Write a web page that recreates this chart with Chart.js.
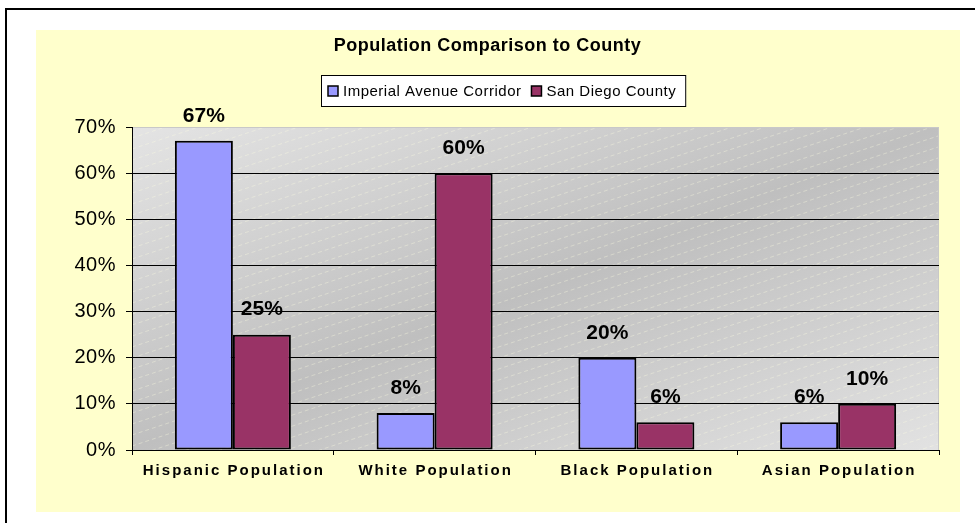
<!DOCTYPE html>
<html>
<head>
<meta charset="utf-8">
<script src="https://cdn.jsdelivr.net/npm/chart.js"></script>
<style>
  html, body { margin: 0; padding: 0; background: #fff; overflow: hidden; }
  body { width: 975px; height: 523px; position: relative; }
  .frame { position: absolute; left: 5px; top: 8px; width: 1000px; height: 1000px; border: 2px solid #000; box-sizing: border-box; }
  .panel { position: absolute; left: 36px; top: 30px; width: 924px; height: 482px; background: #ffffcc; }
  #chart { position: absolute; left: 0; top: 0; }
</style>
</head>
<body>
<div class="frame"></div>
<div class="panel"></div>
<canvas id="chart" width="975" height="523"></canvas>
<script>
const chartTitle = "Population Comparison to County";
const categories = ["Hispanic Population", "White Population", "Black Population", "Asian Population"];
const seriesNames = ["Imperial Avenue Corridor", "San Diego County"];
const corridorPct = [67, 8, 20, 6];
const countyPct = [25, 60, 6, 10];
const yMin = 0, yMax = 70, yStep = 10;

const FONT = '"Liberation Sans", Arial, sans-serif';

// gray diagonal fill behind the bars, gridlines sit on top of it
const plotBackground = {
  id: "plotBackground",
  beforeUpdate(chart) { chart.ctx.letterSpacing = "0.5px"; },
  beforeDraw(chart) {
    const { ctx, chartArea: a } = chart;
    ctx.letterSpacing = "0.5px";

    ctx.save();
    ctx.translate(a.left, a.top);
    ctx.scale(a.width, a.height);
    const g = ctx.createLinearGradient(0, 0, 1, 1);
    g.addColorStop(0, "#e4e4e4");
    g.addColorStop(0.5, "#bfbfbf");
    g.addColorStop(1, "#e2e2e2");
    ctx.fillStyle = g;
    ctx.fillRect(0, 0, 1, 1);
    ctx.restore();

    // faint dashed hatch
    ctx.save();
    ctx.beginPath();
    ctx.rect(a.left, a.top, a.width, a.height);
    ctx.clip();
    ctx.strokeStyle = "rgba(255,255,225,0.35)";
    ctx.lineWidth = 1;
    ctx.setLineDash([4, 3]);
    const rise = a.width * 0.33;
    for (let y = a.top; y < a.bottom + rise; y += 11) {
      ctx.beginPath();
      ctx.moveTo(a.left, y);
      ctx.lineTo(a.right, y - rise);
      ctx.stroke();
    }
    ctx.restore();

    ctx.save();
    ctx.strokeStyle = "#c8c8c8";
    ctx.lineWidth = 1;
    ctx.beginPath();
    ctx.moveTo(a.left, a.top + 0.5);
    ctx.lineTo(a.right - 0.5, a.top + 0.5);
    ctx.lineTo(a.right - 0.5, a.bottom);
    ctx.stroke();
    ctx.restore();
  }
};

// value labels above bars
const barLabels = {
  id: "barLabels",
  afterDatasetsDraw(chart) {
    const ctx = chart.ctx;
    ctx.save();
    ctx.font = `bold 21px ${FONT}`;
    ctx.letterSpacing = "0px";
    ctx.fillStyle = "#000";
    ctx.textAlign = "center";
    ctx.textBaseline = "middle";
    chart.data.datasets.forEach((ds, i) => {
      chart.getDatasetMeta(i).data.forEach((bar, j) => {
        ctx.fillText(Math.round(ds.data[j]) + "%", bar.x, bar.y - 25);
      });
    });
    ctx.restore();
  }
};

// title, legend box and spaced-out category names
const chartText = {
  id: "chartText",
  afterDraw(chart) {
    const ctx = chart.ctx;
    const xs = chart.scales.x;

    ctx.save();
    ctx.fillStyle = "#000";
    ctx.textBaseline = "middle";

    ctx.font = `bold 18px ${FONT}`;
    ctx.letterSpacing = "0.5px";
    ctx.textAlign = "center";
    ctx.fillText(chartTitle, chart.width / 2, 46);

    ctx.font = `bold 15px ${FONT}`;
    ctx.letterSpacing = "2px";
    categories.forEach((c, i) => {
      ctx.fillText(c, xs.getPixelForValue(i) + 1, 471);
    });

    // legend
    ctx.font = `15px ${FONT}`;
    ctx.letterSpacing = "0.5px";
    ctx.textAlign = "left";
    const sw = 10, gapText = 5, gapItem = 10, padL = 7, padR = 10, h = 32;
    const items = chart.data.datasets.map(ds => ({ ds, w: ctx.measureText(ds.label).width }));
    let total = padL + padR;
    items.forEach((it, i) => { total += sw + gapText + it.w + (i ? gapItem : 0); });
    const cy = 91;
    let x = Math.round(504 - total / 2);
    ctx.fillStyle = "#fff";
    ctx.fillRect(x, cy - h / 2, total, h);
    ctx.strokeStyle = "#000";
    ctx.lineWidth = 1;
    ctx.strokeRect(x + 0.5, cy - h / 2 + 0.5, total - 1, h - 1);
    x += padL;
    items.forEach((it, i) => {
      if (i) x += gapItem;
      ctx.fillStyle = it.ds.backgroundColor;
      ctx.fillRect(x, cy - 5, sw, sw);
      ctx.lineWidth = 1.5;
      ctx.strokeStyle = "#000";
      ctx.strokeRect(x, cy - 5, sw, sw);
      x += sw + gapText;
      ctx.fillStyle = "#000";
      ctx.fillText(it.ds.label, x, cy + 1);
      x += it.w;
    });
    ctx.restore();
  }
};

new Chart(document.getElementById("chart"), {
  type: "bar",
  data: {
    labels: categories,
    datasets: [
      {
        label: seriesNames[0],
        data: corridorPct,
        backgroundColor: "#9999ff",
        borderColor: "#000",
        borderWidth: 2,
        borderSkipped: false
      },
      {
        label: seriesNames[1],
        data: countyPct,
        backgroundColor: "#993366",
        borderColor: "#000",
        borderWidth: 2,
        borderSkipped: false
      }
    ]
  },
  options: {
    responsive: false,
    animation: false,
    datasets: { bar: { categoryPercentage: 0.575, barPercentage: 1 } },
    layout: { padding: { left: 0, right: 36, top: 127, bottom: 0 } },
    plugins: {
      legend: { display: false },
      title: { display: false },
      tooltip: { enabled: false }
    },
    scales: {
      x: {
        grid: { drawOnChartArea: false, offset: true, tickLength: 5, tickColor: "#000" },
        border: { color: "#000", width: 1 },
        ticks: { display: false },
        afterFit(s) { s.height = 73; }
      },
      y: {
        min: yMin,
        max: yMax,
        ticks: {
          stepSize: yStep,
          callback: v => v + "%",
          color: "#000",
          font: { family: FONT, size: 20 },
          padding: 10
        },
        grid: {
          color: c => (c.tick && c.tick.value === yMax ? "#c8c8c8" : "#000"),
          tickColor: "#000",
          tickLength: 6
        },
        border: { color: "#000", width: 1 },
        afterFit(s) { s.width = 132; }
      }
    }
  },
  plugins: [plotBackground, barLabels, chartText]
});
</script>
</body>
</html>
